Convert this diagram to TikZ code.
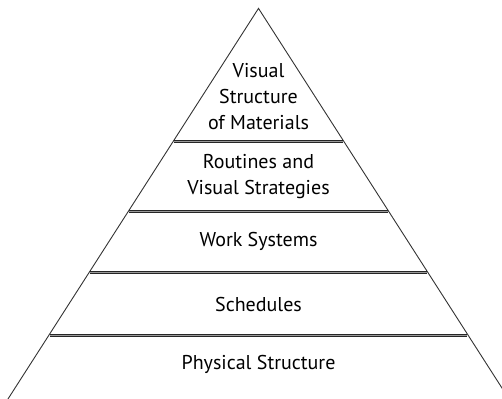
\documentclass[tikz,border=0pt]{standalone}
\usepackage{fontspec}
\setmainfont{PT Sans}
\begin{document}
\begin{tikzpicture}[x=1pt,y=1pt,
  edge/.style={draw=black!80,line width=0.9pt},
  sep/.style={draw=black!85,line width=0.8pt,double=black!40,double distance=1.3pt},
  lbl/.style={align=center,font=\fontsize{20}{26}\selectfont,text=black,inner sep=0pt}]
\useasboundingbox (0,0) rectangle (502,398);
\begin{scope}
\clip (0,0) rectangle (502,398);
% apex and base
\coordinate (apex) at (258.5,389.6);
\coordinate (bl) at (258.5-0.636*405,398-410);
\coordinate (br) at (258.5+0.636*405,398-410);
\draw[edge] (bl) -- (apex) -- (br);
% separators (py values)
\foreach \py/\n in {141.7/a,211.7/b,272.7/c,335.7/d}{
  \pgfmathsetmacro\hw{0.636*(\py-8.4)}
  \coordinate (\n L) at (258.5-\hw,398-\py);
  \coordinate (\n R) at (258.5+\hw,398-\py);
  \draw[sep] (\n L) -- (\n R);
}
\end{scope}
\node[lbl] (t1) at (258.5,398-97) {Visual\\Structure\\of Materials};
\node[lbl] (t2) at (258.5,398-177) {Routines and\\Visual Strategies};
\node[lbl] (t3) at (258.5,398-241) {Work Systems};
\node[lbl] (t4) at (258.5,398-305) {Schedules};
\node[lbl] (t5) at (258.5,398-364) {Physical Structure};
\end{tikzpicture}
\end{document}
